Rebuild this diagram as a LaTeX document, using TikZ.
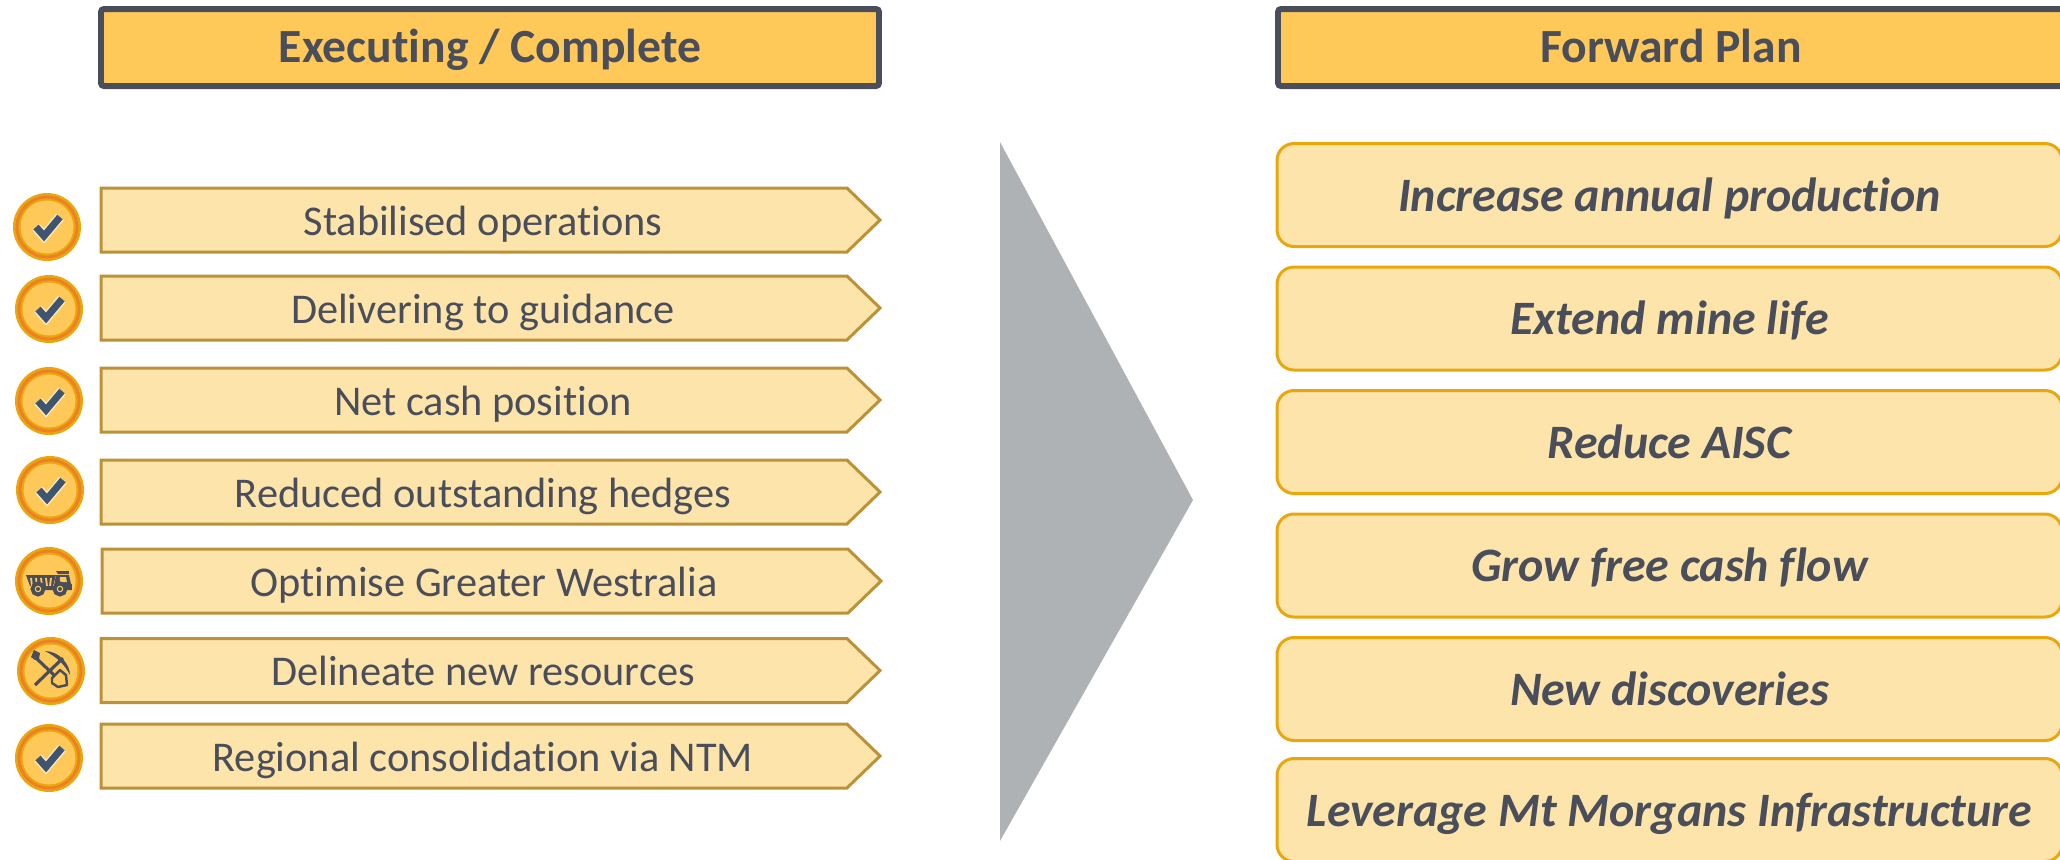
\documentclass[tikz,border=0pt]{standalone}
\usepackage{fontspec}
\usepackage{tikz}
\usetikzlibrary{shapes.symbols}
\setmainfont[Ligatures=CommonOff]{Carlito}
\definecolor{ink}{HTML}{4A4D5A}
\definecolor{gold}{HTML}{FFC95A}
\definecolor{cream}{HTML}{FCE4AB}
\definecolor{amber}{HTML}{E9A70C}
\definecolor{tan}{HTML}{BC9238}
\definecolor{flame}{HTML}{EE7F27}
\definecolor{slate}{HTML}{3F5470}
\definecolor{halo}{HTML}{FDEBC0}
\definecolor{steel}{HTML}{AFB2B4}

\begin{document}
\begin{tikzpicture}[hnode/.style={draw=ink,fill=gold,line width=1.7pt,rounded corners=.3mm,minimum height=.77cm,inner sep=0pt,text=ink,text height=.29cm,text depth=0pt,font=\fontsize{13.55}{15}\selectfont\bfseries},
    snode/.style={draw=tan,fill=cream,line width=.85pt,shape=signal,signal to=east,signal pointer angle=88,minimum height=.64cm,minimum width=7.79cm,inner sep=0pt,text=ink,text height=.3cm,text depth=0pt,execute at begin node=\hspace*{.18cm},font=\fontsize{12.05}{14}\selectfont},
    rnode/.style={draw=amber,fill=cream,line width=.85pt,rounded corners=.17cm,minimum width=7.85cm,minimum height=1.03cm,inner sep=0pt,text=ink,text height=.32cm,text depth=0pt,font=\fontsize{13.65}{17}\selectfont\bfseries\itshape},
    bnode/.style={circle,fill=amber,minimum size=.68cm,inner sep=0pt,path picture={\fill[gold] (path picture bounding box.center) circle (.265); \draw[flame,line width=.8pt] (path picture bounding box.center) circle (.3);}},
    tick/.pic={\begin{scope}[x=.01cm,y=-.01cm]
      \draw[halo,line width=2.8pt,line join=miter] (-11,0) -- (-3,9) -- (13,-10);
      \draw[slate,line width=2pt,line join=miter] (-11,0) -- (-3,9) -- (13,-10);
    \end{scope}},
    truck/.pic={\begin{scope}[x=.01cm,y=-.01cm]
      \fill[ink] (-23,-6) -- (7,-6) -- (4,5) -- (-19,5) -- cycle;
      \draw[gold,line width=.5pt] (-18,-3) -- (-17,5) (-13,-3) -- (-12,5) (-8,-3) -- (-7,5) (-3,-3) -- (-2,5) (2,-3) -- (1,5);
      \fill[ink] (7,-10) -- (20,-10) -- (20,-7) -- (9,-7) -- cycle;
      \fill[ink] (7,-6) -- (20,-6) -- (22,3) -- (23,3) -- (23,9) -- (-5,9) -- (-5,5) -- (5,5) -- cycle;
      \fill[gold] (11,-4) -- (17,-4) -- (18,1) -- (11,1) -- cycle;
      \draw[ink,fill=gold,line width=1.1pt] (-11,8) circle (5.5);
      \draw[ink,fill=gold,line width=1.1pt] (11,8) circle (5.5);
      \fill[ink] (-11,8) circle (2);
      \fill[ink] (11,8) circle (2);
    \end{scope}},
    picks/.pic={\begin{scope}[x=.01cm,y=-.01cm]
      \draw[ink,line width=.9pt] (-16,-14) -- (4,5);
      \fill[ink] (-20,-14) -- (-17,-21) -- (-11,-18) -- (-12,-12) -- (-16,-11) -- cycle;
      \draw[ink,line width=.7pt,line join=round] (1,7) -- (9,-1) -- (15,4) -- (16,14) -- (7,16) -- (1,12) -- cycle;
      \draw[ink,line width=.9pt] (-16,14) -- (12,-13);
      \fill[ink] (-6,-20) .. controls (8,-20) and (19,-7) .. (19,4) .. controls (14,-6) and (6,-14) .. (-6,-20);
    \end{scope}}]
    \path[use as bounding box,clip] (0,0) rectangle (20.6,-8.59);

    \node[hnode,minimum width=7.78cm] (h1) at (4.9,-.475) {Executing / Complete};
    \node[hnode,minimum width=7.86cm] (h2) at (16.71,-.475) {Forward Plan};

    \node[snode] (s1) at (4.74,-2.2) {Stabilised operations};
    \node[snode] (s2) at (4.74,-3.08) {Delivering to guidance};
    \node[snode] (s3) at (4.74,-4) {Net cash position};
    \node[snode] (s4) at (4.74,-4.92) {Reduced outstanding hedges};
    \node[snode] (s5) at (4.75,-5.81) {Optimise Greater Westralia};
    \node[snode] (s6) at (4.74,-6.705) {Delineate new resources};
    \node[snode] (s7) at (4.74,-7.56) {Regional consolidation via NTM};

    \node[bnode] (b1) at (.47,-2.27) {};
    \node[bnode] (b2) at (.49,-3.09) {};
    \node[bnode] (b3) at (.49,-4.01) {};
    \node[bnode] (b4) at (.5,-4.9) {};
    \node[bnode] (b5) at (.49,-5.81) {};
    \node[bnode] (b6) at (.51,-6.71) {};
    \node[bnode] (b7) at (.49,-7.58) {};
    \pic at (b1) {tick};
    \pic at (b2) {tick};
    \pic at (b3) {tick};
    \pic at (b4) {tick};
    \pic at (b5) {truck};
    \pic at (b6) {picks};
    \pic at (b7) {tick};

    \fill[steel] (10,-1.42) -- (11.93,-5) -- (10,-8.41) -- cycle;

    \node[rnode] (r1) at (16.695,-1.95) {Increase annual production};
    \node[rnode] (r2) at (16.695,-3.185) {Extend mine life};
    \node[rnode] (r3) at (16.695,-4.42) {Reduce AISC};
    \node[rnode] (r4) at (16.695,-5.655) {Grow free cash flow};
    \node[rnode] (r5) at (16.695,-6.89) {New discoveries};
    \node[rnode] (r6) at (16.695,-8.1) {Leverage Mt Morgans Infrastructure};
\end{tikzpicture}
\end{document}
